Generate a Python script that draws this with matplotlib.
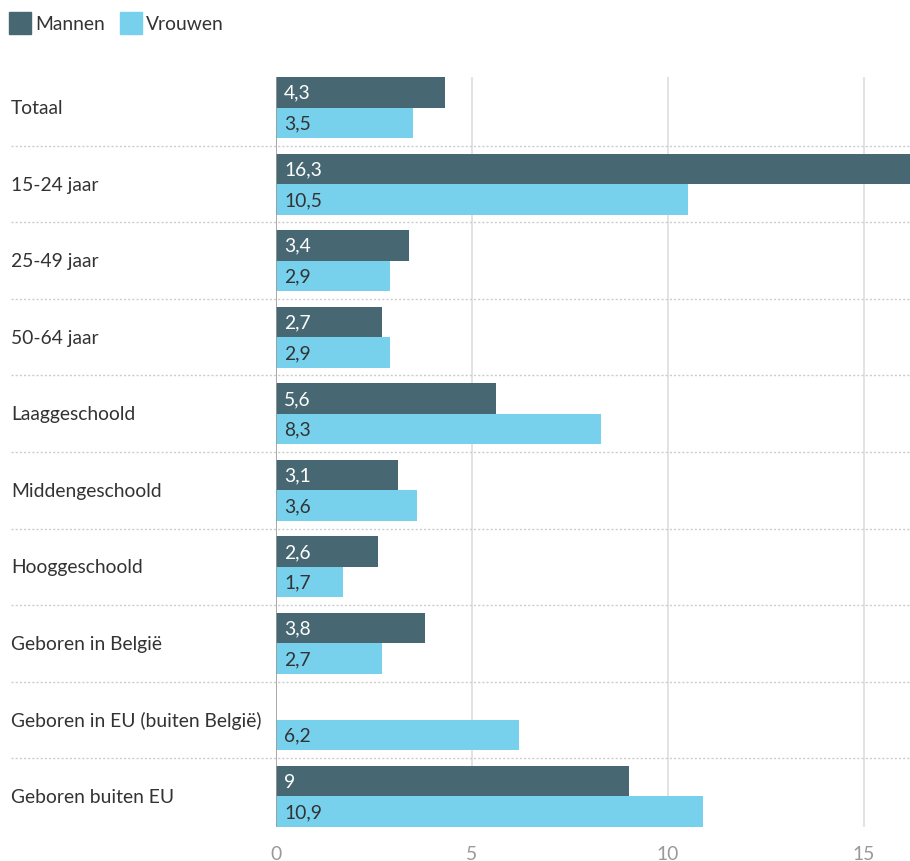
import matplotlib
matplotlib.use("Agg")
import matplotlib.pyplot as plt
import matplotlib.transforms as mtransforms
from matplotlib.lines import Line2D
from matplotlib.patches import Rectangle
import numpy as np

categories = ["Totaal", "15-24 jaar", "25-49 jaar", "50-64 jaar", "Laaggeschoold",
              "Middengeschoold", "Hooggeschoold", "Geboren in België",
              "Geboren in EU (buiten België)", "Geboren buiten EU"]
mannen = [4.3, 16.3, 3.4, 2.7, 5.6, 3.1, 2.6, 3.8, np.nan, 9]
vrouwen = [3.5, 10.5, 2.9, 2.9, 8.3, 3.6, 1.7, 2.7, 6.2, 10.9]
series_names = ["Mannen", "Vrouwen"]
xticks = [0, 5, 10, 15]

c_m = "#476873"
c_v = "#77d1ed"
font = "Lato"
fs = 13.9

W, H = 910, 862
fig = plt.figure(figsize=(W / 100, H / 100), dpi=100)
ax = fig.add_axes([276 / W, 1 - 828 / H, 1 - 276 / W, (828 - 78) / H])

y = np.arange(len(categories))
bh = 0.4
ax.barh(y - bh / 2, mannen, height=bh, color=c_m, zorder=3)
ax.barh(y + bh / 2, vrouwen, height=bh, color=c_v, zorder=3)

def fmt(v):
    s = f"{v:.1f}".replace(".", ",")
    if s.endswith(",0"):
        s = s[:-2]
    return s

xoff = 8 / 39.2
for i in range(len(categories)):
    if not np.isnan(mannen[i]):
        ax.text(xoff, y[i] - bh / 2, fmt(mannen[i]), color="white", fontsize=fs,
                family=font, va="center", ha="left", zorder=4)
    if not np.isnan(vrouwen[i]):
        ax.text(xoff, y[i] + bh / 2, fmt(vrouwen[i]), color="#333333", fontsize=fs,
                family=font, va="center", ha="left", zorder=4)

ax.set_xlim(0, 634 / 39.2)
ax.set_ylim(9.4, -0.4)

for t in xticks[1:]:
    ax.axvline(t, color="#dedede", lw=1.2, zorder=1)
ax.axvline(0, color="#999999", lw=1.2, zorder=5)

for s in ax.spines.values():
    s.set_visible(False)
ax.set_yticks([])
ax.set_xticks(xticks)
ax.set_xticklabels([str(t) for t in xticks], color="#999999", fontsize=fs, family=font)
ax.tick_params(axis="x", length=0, pad=13)

trans = mtransforms.blended_transform_factory(fig.transFigure, ax.transData)
for i, c in enumerate(categories):
    ax.text(11 / W, y[i], c, transform=trans, fontsize=fs, family=font,
            color="#333333", va="center", ha="left", clip_on=False)

# dotted separators
for i in range(len(categories) - 1):
    ax.add_line(Line2D([11 / W, 1.0], [i + 0.5, i + 0.5], transform=trans,
                       color="#cccccc", lw=1.0, linestyle=(0, (1.5, 1.5)),
                       clip_on=False, zorder=2))

# legend
fig.patches.append(Rectangle((9 / W, 1 - 35 / H), 22 / W, 22 / H, transform=fig.transFigure,
                             color=c_m, figure=fig))
fig.text(35 / W, 1 - 24 / H, series_names[0], fontsize=fs, family=font, color="#333333",
         va="center", ha="left")
fig.patches.append(Rectangle((120 / W, 1 - 35 / H), 22 / W, 22 / H, transform=fig.transFigure,
                             color=c_v, figure=fig))
fig.text(146 / W, 1 - 24 / H, series_names[1], fontsize=fs, family=font, color="#333333",
         va="center", ha="left")

fig.savefig("out.png", dpi=100)
